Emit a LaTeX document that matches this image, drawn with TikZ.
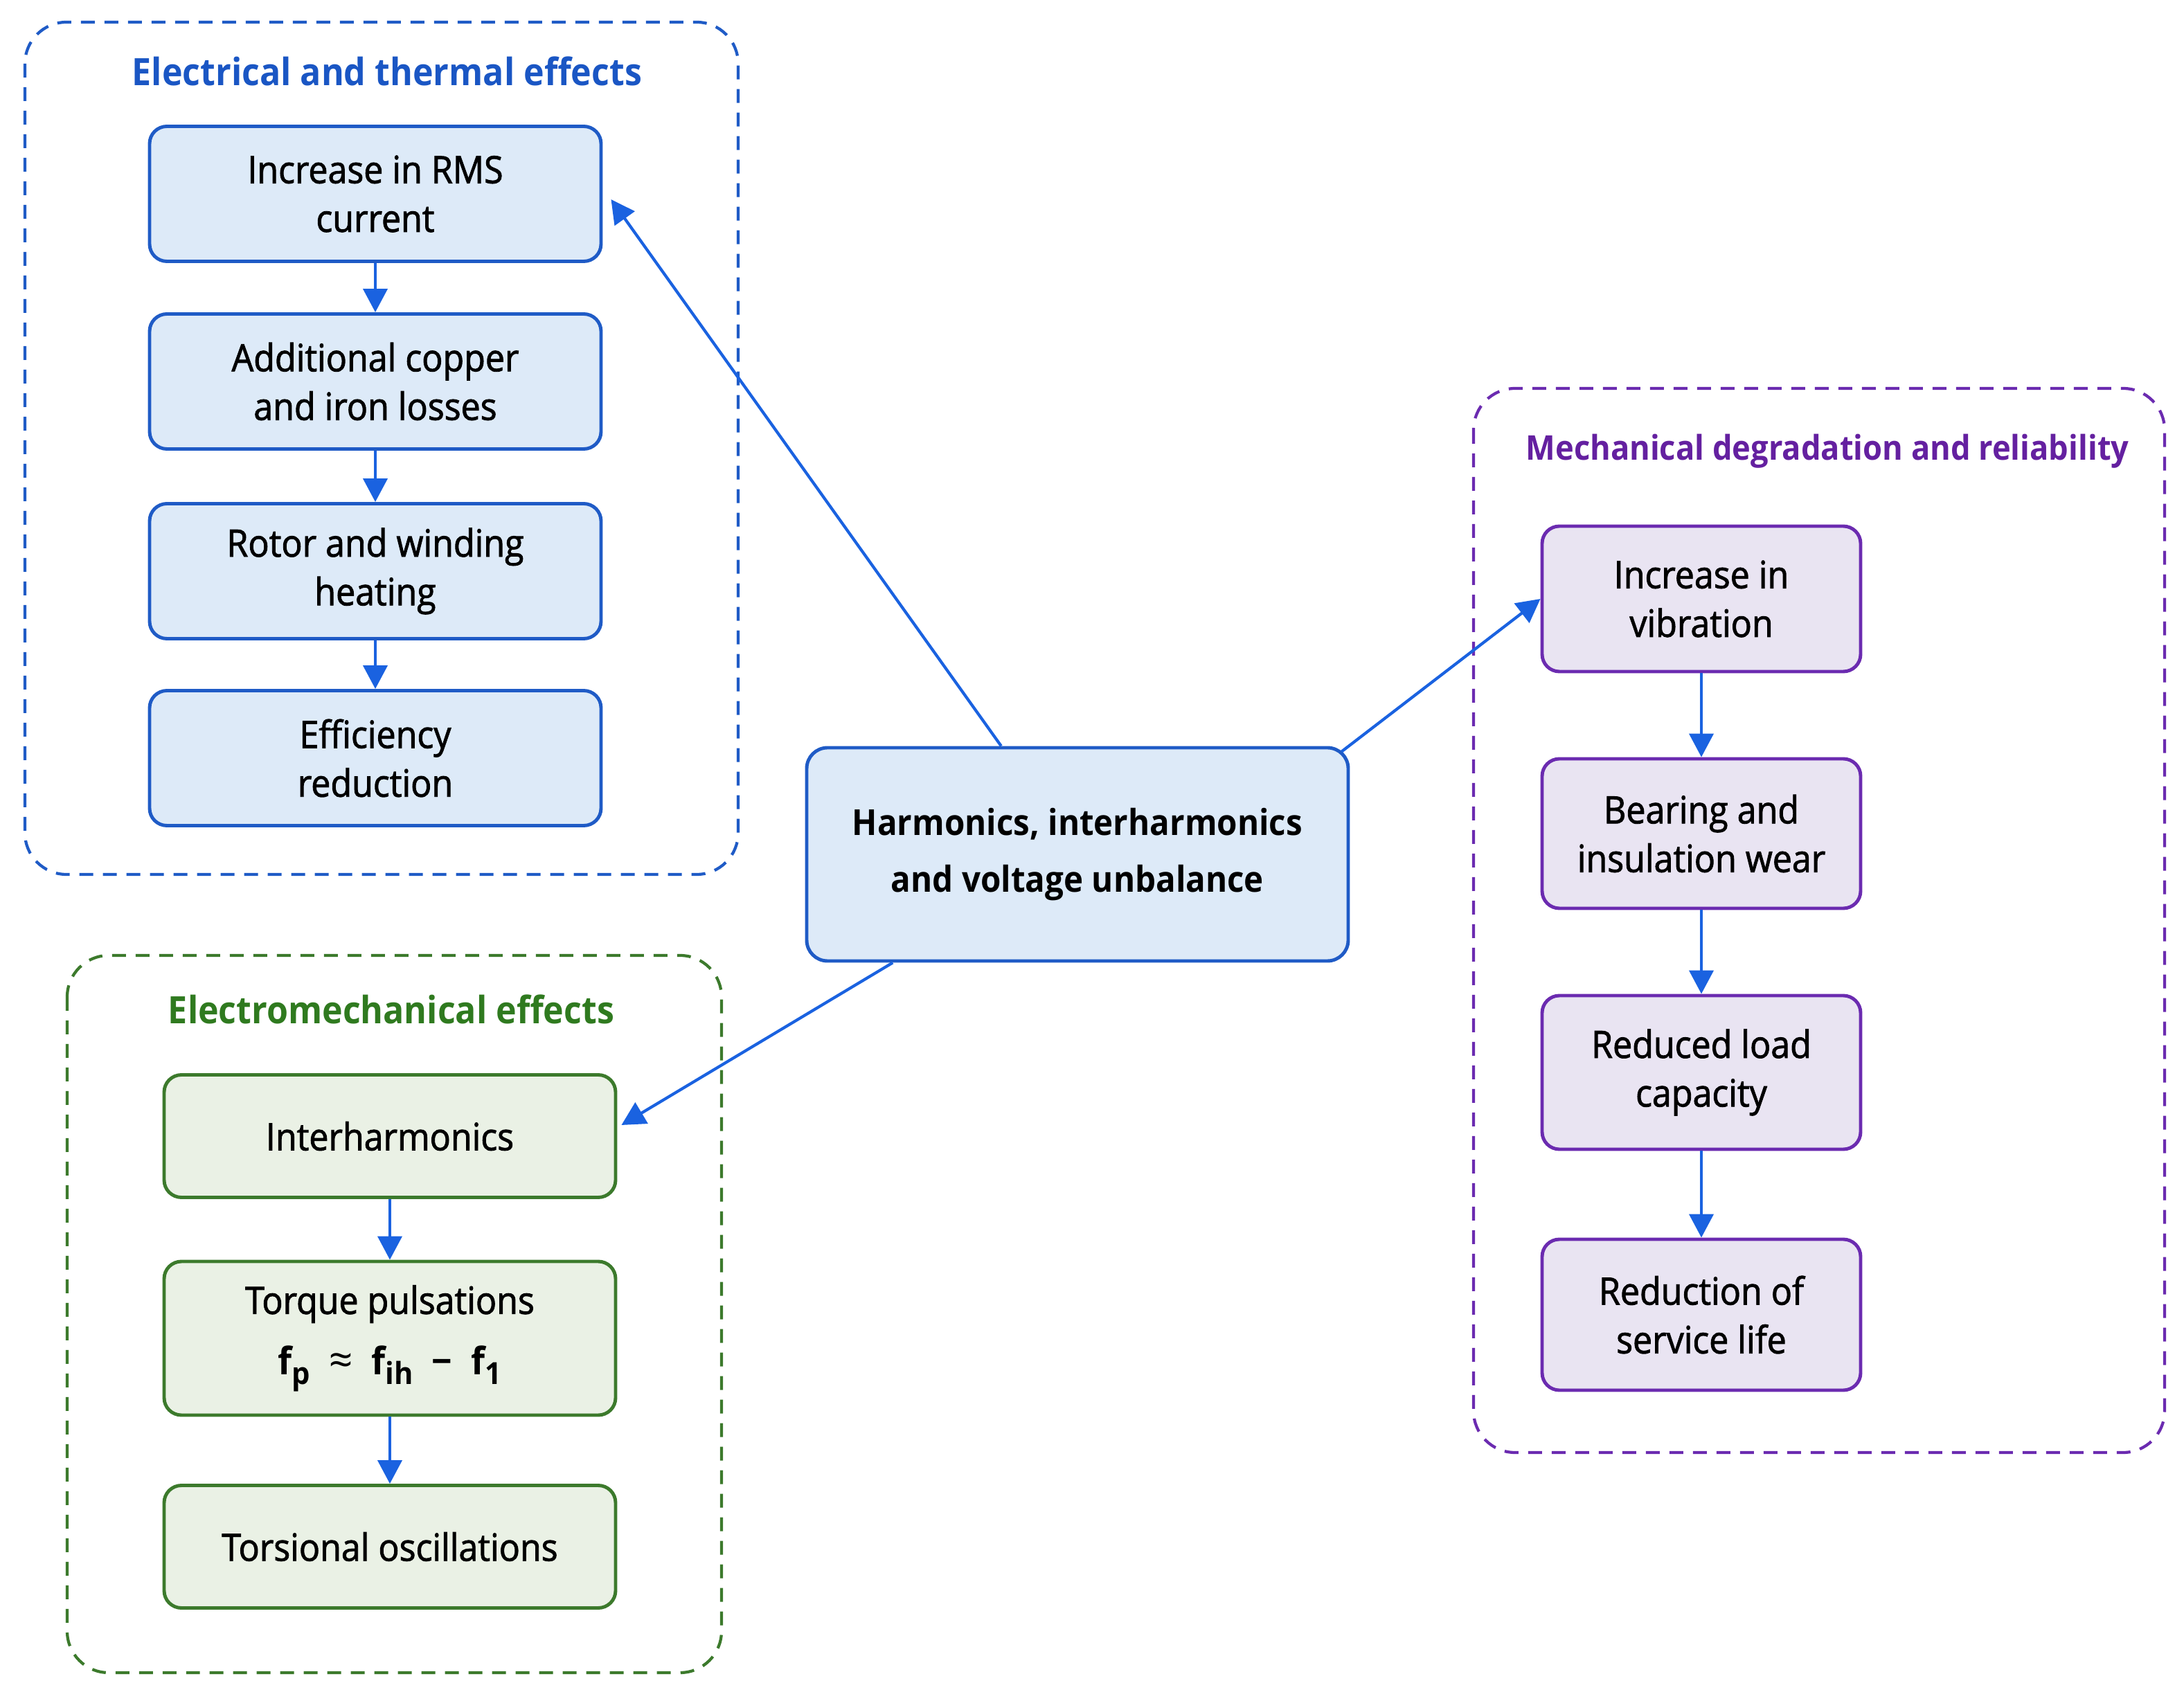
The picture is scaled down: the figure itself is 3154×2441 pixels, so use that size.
\documentclass[tikz,border=0pt]{standalone}
\usepackage{fontspec}
\setmainfont{Open Sans}[FakeStretch=0.92]
\newfontfamily\boxfont{Open Sans}[FakeStretch=0.92,FakeBold=1.6]
\newfontfamily\hubfont{Open Sans Bold}[FakeStretch=0.92]
\newfontfamily\formfont{Open Sans Bold}[FakeStretch=0.95]
\newfontfamily\relfont{Open Sans}
\usetikzlibrary{arrows.meta,calc}
\definecolor{bfill}{HTML}{DDEAF8}
\definecolor{bbord}{HTML}{1F5BC6}
\definecolor{arrowc}{HTML}{1A62E0}
\definecolor{btitle}{HTML}{1A56C4}
\definecolor{gfill}{HTML}{EAF1E5}
\definecolor{gbord}{HTML}{3C7A2C}
\definecolor{gtitle}{HTML}{2F7A1F}
\definecolor{pfill}{HTML}{E9E4F2}
\definecolor{pbord}{HTML}{6B2BB0}
\definecolor{ptitle}{HTML}{6420A0}
\tikzset{
  box/.style={rounded corners=2.5mm, line width=1.4pt, align=center, inner sep=0pt,
    font=\fontsize{15.5pt}{20pt}\selectfont\boxfont},
  bluebox/.style={box, draw=bbord, fill=bfill, minimum width=65.2mm, minimum height=19.5mm},
  greenbox/.style={box, draw=gbord, fill=gfill, minimum width=65.2mm},
  purplebox/.style={box, draw=pbord, fill=pfill, minimum width=46mm},
  grp/.style={dash pattern=on 2mm off 1.4mm, line width=1.2pt, rounded corners=6mm},
  grptitle/.style={font=\fontsize{15.5pt}{20pt}\selectfont\hubfont, inner sep=0pt},
  arr/.style={-{Triangle[length=3.4mm,width=3.5mm]}, line width=1.2pt, draw=arrowc}
}
\newcommand{\sbx}[1]{\raisebox{-0.45ex}{\fontsize{12.5pt}{12.5pt}\selectfont #1}}
\begin{document}
\begin{tikzpicture}[x=0.1mm,y=-0.1mm]
\useasboundingbox (0,0) rectangle (3154,2441);
% group frames
\draw[grp, draw=bbord] (36,32) rectangle (1066,1263);
\draw[grp, draw=gbord] (97,1380) rectangle (1042,2416);
\draw[grp, draw=pbord] (2128,561) rectangle (3126,2098);
% titles
\node[grptitle, text=btitle] (t1) at (559,103) {Electrical and thermal effects};
\node[grptitle, text=gtitle] (t2) at (565,1458) {Electromechanical effects};
\node[grptitle, text=ptitle, font=\fontsize{14pt}{18pt}\selectfont\hubfont] (t3) at (2639,652) {Mechanical degradation and reliability};
% electrical
\node[bluebox] (rms) at (542,280) {Increase in RMS\\current};
\node[bluebox] (cop) at (542,551) {Additional copper\\and iron losses};
\node[bluebox] (rot) at (542,825) {Rotor and winding\\heating};
\node[bluebox] (eff) at (542,1095) {Efficiency\\reduction};
% electromechanical
\node[greenbox, minimum height=17.7mm] (inter) at (563,1641) {Interharmonics};
\node[greenbox, minimum height=22.2mm] (torq) at (563,1933) {Torque pulsations\\[5pt]\formfont f\sbx{p}\enspace{\relfont\fontsize{17pt}{17pt}\selectfont ≈}\enspace f\sbx{ih}\enspace −\enspace f\sbx{1}};
\node[greenbox, minimum height=17.7mm] (tors) at (563,2234) {Torsional oscillations};
% mechanical
\node[purplebox, minimum height=21mm] (vib) at (2457,865) {Increase in\\vibration};
\node[purplebox, minimum height=21.6mm] (bear) at (2457,1204) {Bearing and\\insulation wear};
\node[purplebox, minimum height=22.2mm] (load) at (2457,1549) {Reduced load\\capacity};
\node[purplebox, minimum height=21.8mm] (life) at (2457,1899) {Reduction of\\service life};
% hub
\node[rounded corners=3mm, line width=1.4pt, draw=bbord, fill=bfill, minimum width=78.2mm,
  minimum height=30.8mm, align=center, inner sep=0pt,
  font=\fontsize{14.7pt}{23.3pt}\selectfont\hubfont] (hub) at (1556,1234)
  {\rule{0pt}{4mm}Harmonics, interharmonics\\and voltage unbalance};
% arrows
\draw[arr] (rms.south) -- (cop.north);
\draw[arr] (cop.south) -- (rot.north);
\draw[arr] (rot.south) -- (eff.north);
\draw[arr] (inter.south) -- (torq.north);
\draw[arr] (torq.south) -- (tors.north);
\draw[arr] (vib.south) -- (bear.north);
\draw[arr] (bear.south) -- (load.north);
\draw[arr] (load.south) -- (life.north);
\draw[arr] ($(hub.north west)!0.36!(hub.north east)$) -- ([xshift=1.2mm,yshift=-0.8mm]rms.east);
\draw[arr] ([xshift=-1.2mm,yshift=-0.8mm]hub.north east) -- (vib.west);
\draw[arr] ($(hub.south west)!0.161!(hub.south east)$) -- ([xshift=0.6mm,yshift=1.6mm]inter.east);
\end{tikzpicture}
\end{document}
